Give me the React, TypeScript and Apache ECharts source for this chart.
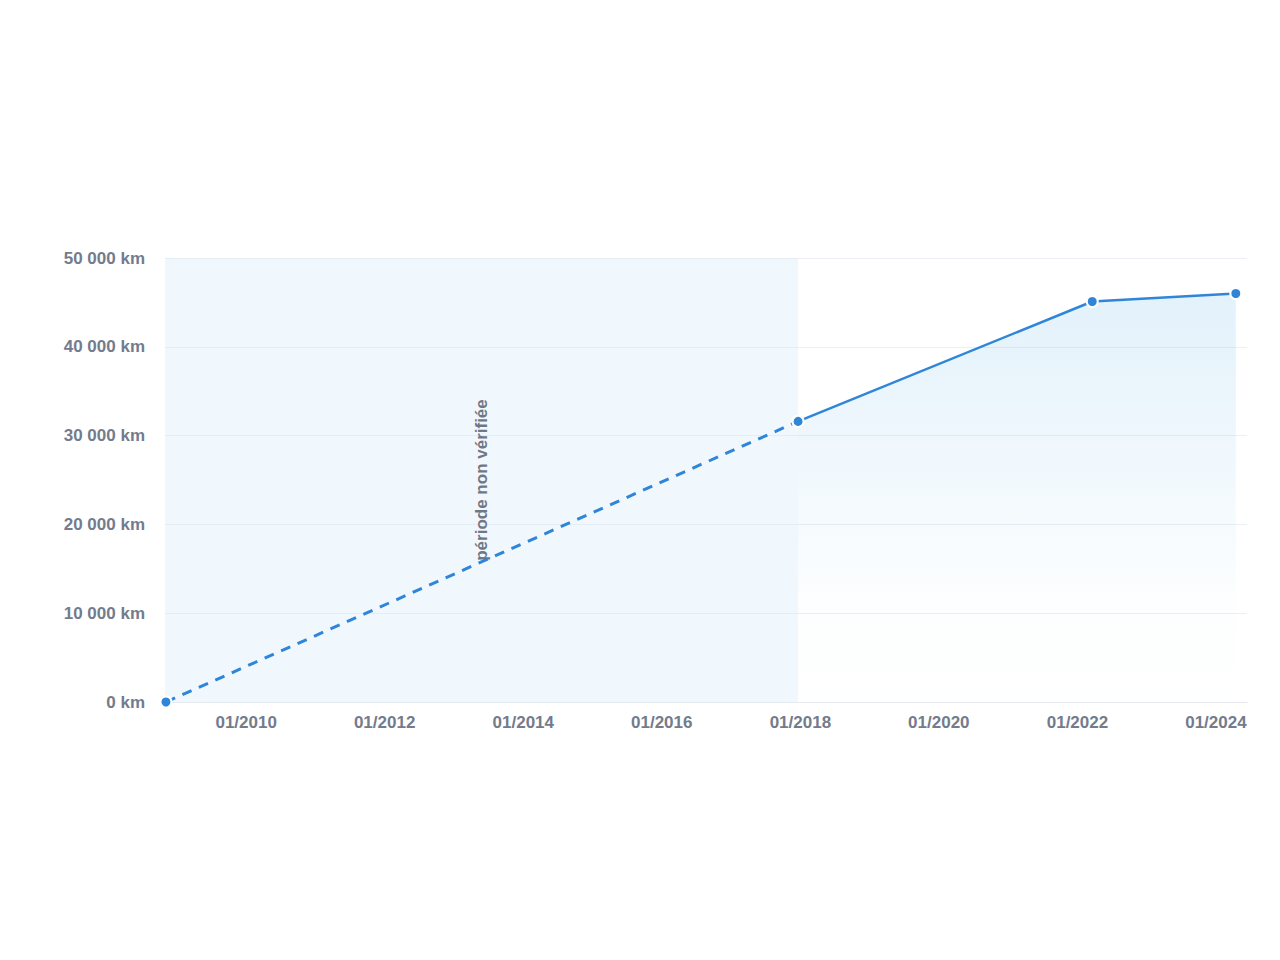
import React, { useEffect, useRef } from "react";
import * as echarts from "echarts";

const verifiedDates = ["2017-12-20", "2022-03-20", "2024-04-15"];
const verifiedKm = [31600, 45100, 46000];
const unverifiedDates = ["2008-11-04", "2017-12-20"];
const unverifiedKm = [0, 31600];
const axisMin = "2008-10-30";
const axisMax = "2024-06-13";
const xTickYears = [2010, 2012, 2014, 2016, 2018, 2020, 2022, 2024];
const yTicks = [0, 10000, 20000, 30000, 40000, 50000];
const unverifiedLabel = "période non vérifiée";

const ts = (d: string) => new Date(d + "T00:00:00Z").getTime();
const fmtKm = (v: number) =>
  String(v).replace(/\B(?=(\d{3})+(?!\d))/g, " ") + " km";

export default function App() {
  const ref = useRef<HTMLDivElement>(null);
  useEffect(() => {
    if (!ref.current) return;
    const chart = echarts.init(ref.current, null, { renderer: "svg" });
    const blue = "#2f86d8";
    const labelColor = "#737b8c";
    const font = "Arial, 'Liberation Sans', Helvetica, sans-serif";
    chart.setOption({
      animation: false,
      grid: { left: 157, right: 25, top: 250, bottom: 250, containLabel: false },
      xAxis: {
        type: "value",
        min: ts(axisMin),
        max: ts(axisMax),
        axisLine: { show: true, lineStyle: { color: "#e6e9ee", width: 1 } },
        axisTick: { show: false },
        splitLine: { show: false },
        axisLabel: {
          customValues: xTickYears.map((y) => ts(`${y}-01-01`)),
          formatter: (v: number) => {
            const d = new Date(v);
            return `01/${d.getUTCFullYear()}`;
          },
          color: labelColor,
          fontWeight: "bold",
          fontSize: 17,
          fontFamily: font,
          margin: 12,
        },
      },
      yAxis: {
        type: "value",
        min: yTicks[0],
        max: yTicks[yTicks.length - 1],
        interval: 10000,
        axisLine: { show: false },
        axisTick: { show: false },
        splitLine: { show: true, lineStyle: { color: "#eceff3", width: 1 } },
        axisLabel: {
          formatter: (v: number) => fmtKm(v),
          color: labelColor,
          fontWeight: "bold",
          fontSize: 17,
          fontFamily: font,
          margin: 20,
        },
      },
      series: [
        {
          type: "line",
          name: "unverified",
          data: unverifiedDates.map((d, i) => [ts(d), unverifiedKm[i]]),
          lineStyle: { color: blue, width: 3, type: [10, 8] },
          itemStyle: { color: blue, borderColor: "#ffffff", borderWidth: 2 },
          symbol: "circle",
          symbolSize: 11,
          showSymbol: true,
          z: 3,
          markArea: {
            silent: true,
            itemStyle: { color: "rgba(214,236,248,0.35)" },
            label: {
              show: true,
              position: "inside",
              rotate: 90,
              formatter: unverifiedLabel,
              color: "#6f7787",
              fontWeight: "bold",
              fontSize: 17,
              fontFamily: font,
            },
            data: [[{ xAxis: ts(axisMin), yAxis: 0 }, { xAxis: ts(unverifiedDates[1]), yAxis: 50000 }]],
          },
        },
        {
          type: "line",
          name: "verified",
          data: verifiedDates.map((d, i) => [ts(d), verifiedKm[i]]),
          lineStyle: { color: blue, width: 2.5 },
          itemStyle: { color: blue, borderColor: "#ffffff", borderWidth: 2 },
          symbol: "circle",
          symbolSize: 11,
          showSymbol: true,
          z: 4,
          areaStyle: {
            color: new echarts.graphic.LinearGradient(0, 0, 0, 1, [
              { offset: 0, color: "rgba(120,190,235,0.3)" },
              { offset: 0.75, color: "rgba(120,190,235,0.03)" },
              { offset: 1, color: "rgba(120,190,235,0)" },
            ]),
          },
        },
      ],
    });
    return () => chart.dispose();
  }, []);
  return <div ref={ref} style={{ width: 1264, height: 944 }} />;
}
